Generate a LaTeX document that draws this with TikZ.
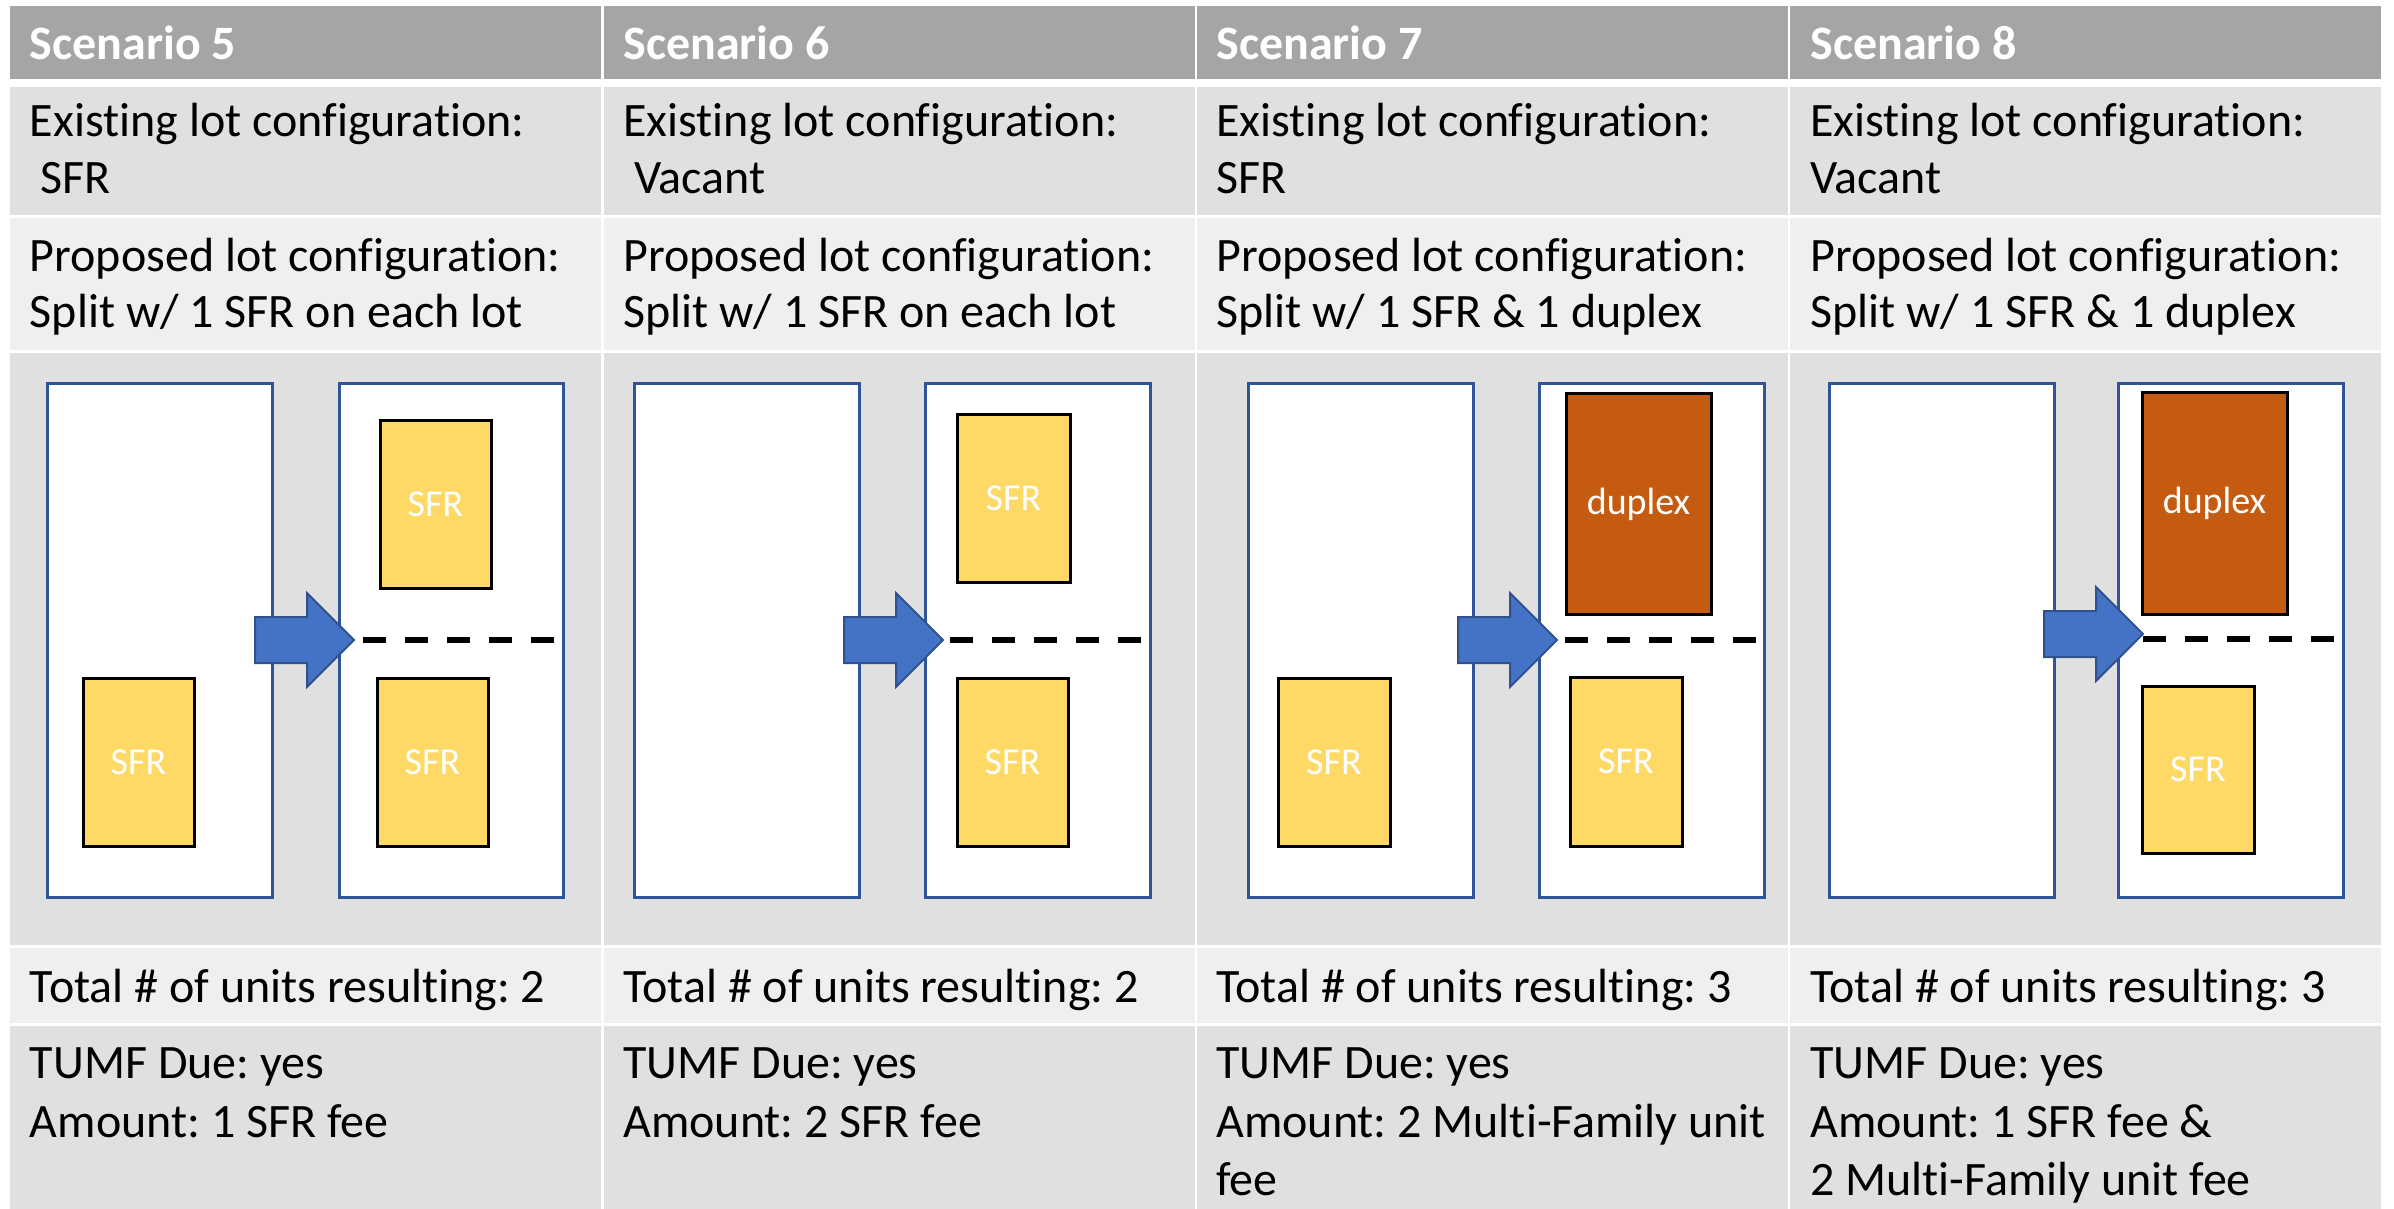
\documentclass[tikz,border=0pt]{standalone}
\usepackage{fontspec}
\setmainfont[Ligatures=NoCommon]{Carlito}
\definecolor{hdrgray}{HTML}{A5A5A5}
\definecolor{rowdark}{HTML}{E0E0E0}
\definecolor{rowlight}{HTML}{EFEFEF}
\definecolor{lotblue}{HTML}{2F5597}
\definecolor{arrowfill}{HTML}{4472C4}
\definecolor{arrowedge}{HTML}{2F528F}
\definecolor{sfryellow}{HTML}{FFD966}
\definecolor{duplexorange}{HTML}{C55A11}
\tikzset{
  celltext/.style={anchor=base west, inner sep=0pt, font=\frenchspacing\fontsize{24}{29}\selectfont, text=black},
  hdrtext/.style={anchor=base west, inner sep=0pt, font=\frenchspacing\fontsize{24}{29}\selectfont\bfseries, text=white},
  lotbox/.style={draw=lotblue, line width=1.5pt, fill=white},
  sfrbox/.style={draw=black, line width=1.5pt, fill=sfryellow},
  duplexbox/.style={draw=black, line width=1.5pt, fill=duplexorange},
  bldlabel/.style={inner sep=0pt, font=\fontsize{19}{23}\selectfont, text=white},
  splitline/.style={draw=black, line width=2.75pt, dash pattern=on 11.5pt off 9.5pt},
  splitarrow/.pic={
    \filldraw[fill=arrowfill, draw=arrowedge, line width=1pt, line join=miter]
      (0,-23) -- (52,-23) -- (52,-47) -- (99,0) -- (52,47) -- (52,23) -- (0,23) -- cycle;
  }
}
\begin{document}
\begin{tikzpicture}[x=0.5pt,y=-0.5pt]
\useasboundingbox (0,0) rectangle (2394,1209);
\fill[white] (0,0) rectangle (2394,1209);
% cell backgrounds
\foreach \cx in {10,604,1197,1790}{
  \fill[hdrgray]  (\cx,6)    rectangle ++(591,73);
  \fill[rowdark]  (\cx,87)   rectangle ++(591,128);
  \fill[rowlight] (\cx,218)  rectangle ++(591,132);
  \fill[rowdark]  (\cx,353)  rectangle ++(591,592);
  \fill[rowlight] (\cx,948)  rectangle ++(591,75);
  \fill[rowdark]  (\cx,1026) rectangle ++(591,183);
}
% ---------- column texts ----------
% Scenario 5
\node[hdrtext]  (h5)  at (29.5,60)   {Scenario 5};
\node[celltext] (e5a) at (29.5,137)  {Existing lot configuration:};
\node[celltext] (e5b) at (29.5,194)  {\ SFR};
\node[celltext] (p5a) at (29.5,271)  {Proposed lot configuration:};
\node[celltext] (p5b) at (29.5,328)  {Split w/ 1 SFR on each lot};
\node[celltext] (t5)  at (29.5,1002) {Total \# of units resulting: 2};
\node[celltext] (f5a) at (29.5,1078) {TUMF Due: yes};
\node[celltext] (f5b) at (29.5,1137) {Amount: 1 SFR fee};
% Scenario 6
\node[hdrtext]  (h6)  at (623,60)   {Scenario 6};
\node[celltext] (e6a) at (623,137)  {Existing lot configuration:};
\node[celltext] (e6b) at (623,194)  {\ Vacant};
\node[celltext] (p6a) at (623,271)  {Proposed lot configuration:};
\node[celltext] (p6b) at (623,328)  {Split w/ 1 SFR on each lot};
\node[celltext] (t6)  at (623,1002) {Total \# of units resulting: 2};
\node[celltext] (f6a) at (623,1078) {TUMF Due: yes};
\node[celltext] (f6b) at (623,1137) {Amount: 2 SFR fee};
% Scenario 7
\node[hdrtext]  (h7)  at (1216,60)   {Scenario 7};
\node[celltext] (e7a) at (1216,137)  {Existing lot configuration:};
\node[celltext] (e7b) at (1216,194)  {SFR};
\node[celltext] (p7a) at (1216,271)  {Proposed lot configuration:};
\node[celltext] (p7b) at (1216,328)  {Split w/ 1 SFR \& 1 duplex};
\node[celltext] (t7)  at (1216,1002) {Total \# of units resulting: 3};
\node[celltext] (f7a) at (1216,1078) {TUMF Due: yes};
\node[celltext] (f7b) at (1216,1137) {Amount: 2 Multi-Family unit};
\node[celltext] (f7c) at (1216,1195) {fee};
% Scenario 8
\node[hdrtext]  (h8)  at (1810,60)   {Scenario 8};
\node[celltext] (e8a) at (1810,137)  {Existing lot configuration:};
\node[celltext] (e8b) at (1810,194)  {Vacant};
\node[celltext] (p8a) at (1810,271)  {Proposed lot configuration:};
\node[celltext] (p8b) at (1810,328)  {Split w/ 1 SFR \& 1 duplex};
\node[celltext] (t8)  at (1810,1002) {Total \# of units resulting: 3};
\node[celltext] (f8a) at (1810,1078) {TUMF Due: yes};
\node[celltext] (f8b) at (1810,1137) {Amount: 1 SFR fee \&};
\node[celltext] (f8c) at (1810,1195) {2 Multi-Family unit fee};
% ---------- lots ----------
\draw[lotbox] (47,383)   rectangle (272,897);
\draw[lotbox] (339,383)  rectangle (563,897);
\draw[lotbox] (634,383)  rectangle (859,897);
\draw[lotbox] (925,383)  rectangle (1150,897);
\draw[lotbox] (1248,383) rectangle (1473,897);
\draw[lotbox] (1539,383) rectangle (1764,897);
\draw[lotbox] (1829,383) rectangle (2054,897);
\draw[lotbox] (2118,383) rectangle (2343,897);
% ---------- buildings ----------
% Scenario 5
\draw[sfrbox] (83,678)  rectangle (194,846);
\node[bldlabel] (b5a) at (138.5,762) {SFR};
\draw[sfrbox] (380,420) rectangle (491,588);
\node[bldlabel] (b5b) at (435.5,504) {SFR};
\draw[sfrbox] (377,678) rectangle (488,846);
\node[bldlabel] (b5c) at (432.5,762) {SFR};
% Scenario 6
\draw[sfrbox] (957,414) rectangle (1070,582);
\node[bldlabel] (b6a) at (1013.5,498) {SFR};
\draw[sfrbox] (957,678) rectangle (1068,846);
\node[bldlabel] (b6b) at (1012.5,762) {SFR};
% Scenario 7
\draw[sfrbox] (1278,678) rectangle (1390,846);
\node[bldlabel] (b7a) at (1334,762) {SFR};
\draw[duplexbox] (1566,393) rectangle (1711,614);
\node[bldlabel] (b7b) at (1638.5,504) {duplex};
\draw[sfrbox] (1570,677) rectangle (1682,846);
\node[bldlabel] (b7c) at (1626,761) {SFR};
% Scenario 8
\draw[duplexbox] (2142,392) rectangle (2287,614);
\node[bldlabel] (b8a) at (2214.5,503) {duplex};
\draw[sfrbox] (2142,686) rectangle (2254,853);
\node[bldlabel] (b8b) at (2198,769) {SFR};
% ---------- split lines ----------
\coordinate (d5s) at (363,640);  \coordinate (d5e) at (554,640);
\coordinate (d6s) at (950,640);  \coordinate (d6e) at (1141,640);
\coordinate (d7s) at (1565,640); \coordinate (d7e) at (1756,640);
\coordinate (d8s) at (2143,639); \coordinate (d8e) at (2334,639);
\draw[splitline] (d5s) -- (d5e);
\draw[splitline] (d6s) -- (d6e);
\draw[splitline] (d7s) -- (d7e);
\draw[splitline] (d8s) -- (d8e);
% ---------- arrows ----------
\pic at (255,640) {splitarrow};
\pic at (844,640) {splitarrow};
\pic at (1458,640) {splitarrow};
\pic at (2044,634) {splitarrow};
\end{tikzpicture}
\end{document}
